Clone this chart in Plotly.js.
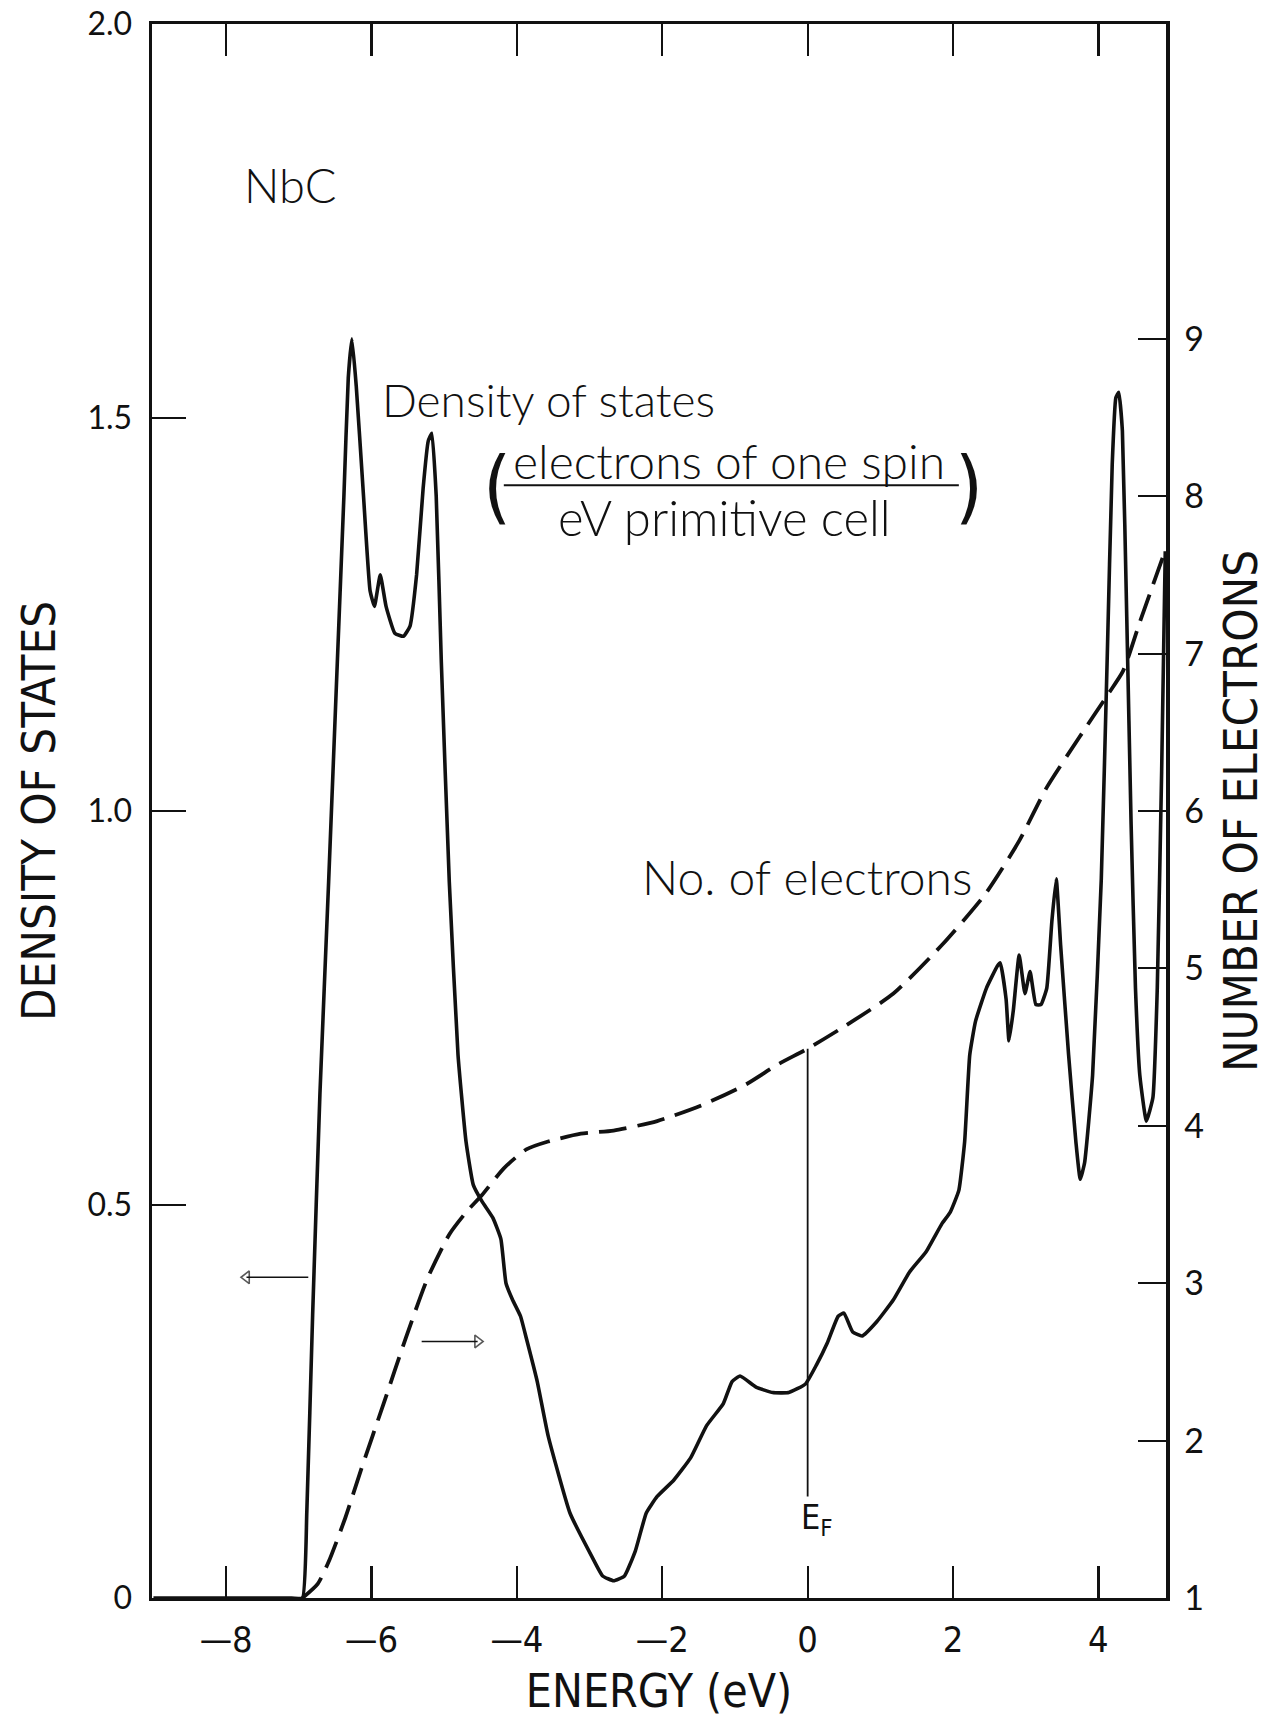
<!DOCTYPE html>
<html>
<head>
<meta charset="utf-8">
<script src="https://cdn.plot.ly/plotly-3.0.1.min.js"></script>
<style>html,body{margin:0;padding:0;background:#fff;}#chart{width:1284px;height:1718px;}</style>
</head>
<body>
<div id="chart"></div>
<script>
// Energy (eV) and density of states (electrons of one spin / eV primitive cell)
const dosEnergy = [-9.0,-7.1,-6.95,-6.89,-6.81,-6.71,-6.59,-6.47,-6.38,-6.32,-6.27,-6.21,-6.11,-6.02,-5.96,-5.88,-5.80,-5.68,-5.56,-5.47,-5.38,-5.29,-5.22,-5.17,-5.11,-5.04,-4.93,-4.81,-4.70,-4.60,-4.48,-4.33,-4.22,-4.15,-4.06,-3.95,-3.87,-3.72,-3.57,-3.27,-2.97,-2.82,-2.67,-2.52,-2.37,-2.22,-2.07,-1.84,-1.61,-1.39,-1.16,-1.04,-0.93,-0.71,-0.48,-0.26,-0.03,0.12,0.27,0.42,0.50,0.62,0.75,0.95,1.18,1.40,1.63,1.85,1.96,2.08,2.16,2.23,2.31,2.46,2.61,2.65,2.73,2.77,2.83,2.91,2.99,3.06,3.14,3.21,3.29,3.36,3.42,3.48,3.59,3.69,3.75,3.81,3.92,4.04,4.12,4.19,4.24,4.28,4.33,4.39,4.45,4.51,4.57,4.66,4.75,4.81,4.87,4.92];
const dosValues = [0,0,0,0.11,0.36,0.64,0.91,1.19,1.40,1.55,1.60,1.54,1.40,1.28,1.26,1.30,1.26,1.226,1.222,1.235,1.30,1.41,1.47,1.48,1.40,1.19,0.91,0.69,0.58,0.525,0.504,0.483,0.456,0.40,0.379,0.358,0.33,0.275,0.206,0.108,0.053,0.028,0.022,0.028,0.060,0.108,0.129,0.15,0.178,0.219,0.247,0.275,0.282,0.268,0.261,0.261,0.272,0.296,0.324,0.358,0.362,0.338,0.333,0.351,0.379,0.414,0.44,0.476,0.49,0.518,0.58,0.69,0.733,0.775,0.803,0.807,0.761,0.708,0.747,0.817,0.768,0.796,0.754,0.754,0.775,0.86,0.914,0.83,0.69,0.58,0.532,0.553,0.664,0.914,1.19,1.44,1.525,1.532,1.483,1.247,0.983,0.775,0.664,0.606,0.636,0.775,1.05,1.33];

// Number of electrons (right axis)
const nEnergy = [-6.95,-6.74,-6.59,-6.36,-6.14,-5.83,-5.53,-5.23,-4.93,-4.70,-4.48,-4.18,-3.87,-3.57,-3.12,-2.67,-2.07,-1.46,-0.86,-0.41,0,0.50,1.18,1.85,2.44,2.91,3.29,3.74,4.13,4.34,4.57,4.93];
const nElectrons = [1.0,1.09,1.23,1.51,1.82,2.24,2.65,3.03,3.31,3.45,3.56,3.73,3.85,3.90,3.95,3.97,4.03,4.13,4.26,4.39,4.49,4.63,4.84,5.15,5.47,5.81,6.15,6.47,6.74,6.89,7.20,7.67];

// Fermi level marker
const fermiEnergy = [0, 0];
const fermiElectrons = [1.645, 4.49];

// Axis-pointer arrows (tail, head)
const leftArrowX = [-6.87, -7.72];
const leftArrowY = [0.4075, 0.4075];
const rightArrowX = [-5.31, -4.54];
const rightArrowY = [0.326, 0.326];

// Tick labels
const xTickVals = [-8,-6,-4,-2,0,2,4];
const xTickText = ["\u20148","\u20146","\u20144","\u20142","0","2","4"];
const yTickVals = [0,0.5,1.0,1.5,2.0];
const yTickText = ["0","0.5","1.0","1.5","2.0"];
const y2TickVals = [1,2,3,4,5,6,7,8,9];
const y2TickText = ["1","2","3","4","5","6","7","8","9"];

const labelFont = "Lato, 'Open Sans', sans-serif";
const narrowFont = "'Liberation Sans Narrow', 'DejaVu Sans Condensed', sans-serif";

const traces = [
  {x: dosEnergy, y: dosValues, type: 'scatter', mode: 'lines', name: 'Density of states',
   line: {color: '#111', width: 3.6, shape: 'spline', smoothing: 0.4}, yaxis: 'y'},
  {x: nEnergy, y: nElectrons, type: 'scatter', mode: 'lines', name: 'No. of electrons',
   line: {color: '#111', width: 3.8, dash: '28px,11px', shape: 'spline', smoothing: 0.6}, yaxis: 'y2'},
  {x: fermiEnergy, y: fermiElectrons, type: 'scatter', mode: 'lines', name: 'E_F',
   line: {color: '#111', width: 1.8}, yaxis: 'y2'},
  {x: leftArrowX, y: leftArrowY, type: 'scatter', mode: 'lines+markers', yaxis: 'y',
   line: {color: '#111', width: 1.4},
   marker: {symbol: ['circle', 'triangle-left-open'], size: [0, 11], color: '#111', line: {color: '#111', width: 1.6}}},
  {x: rightArrowX, y: rightArrowY, type: 'scatter', mode: 'lines+markers', yaxis: 'y',
   line: {color: '#111', width: 1.4},
   marker: {symbol: ['circle', 'triangle-right-open'], size: [0, 11], color: '#111', line: {color: '#111', width: 1.6}}}
];

const layout = {
  width: 1284, height: 1718,
  margin: {l: 152, r: 118, t: 24, b: 120},
  paper_bgcolor: '#fff', plot_bgcolor: '#fff',
  showlegend: false,
  xaxis: {
    range: [-9.02, 4.93], tickvals: xTickVals, ticktext: xTickText,
    ticks: 'inside', ticklen: 32, tickwidth: 2.2, tickcolor: '#111',
    showline: true, linewidth: 3, linecolor: '#111', mirror: 'ticks',
    showgrid: false, zeroline: false,
    tickfont: {family: narrowFont, size: 36, color: '#111'},
    ticklabelstandoff: 8, ticklabeloverflow: 'allow',
    title: {text: 'ENERGY (eV)', font: {family: narrowFont, size: 46, color: '#111'}, standoff: 20}
  },
  yaxis: {
    range: [0, 2.0], tickvals: yTickVals, ticktext: yTickText,
    ticks: 'inside', ticklen: 34, tickwidth: 2, tickcolor: '#111',
    showline: true, linewidth: 3.5, linecolor: '#111', mirror: false,
    showgrid: false, zeroline: false,
    tickfont: {family: labelFont, size: 32, color: '#111'},
    ticklabelstandoff: 10, ticklabeloverflow: 'allow',
    title: {text: 'DENSITY OF STATES', font: {family: narrowFont, size: 47, color: '#111'}, standoff: 18}
  },
  yaxis2: {
    range: [1, 11], overlaying: 'y', side: 'right', tickvals: y2TickVals, ticktext: y2TickText,
    ticks: 'inside', ticklen: 28, tickwidth: 2, tickcolor: '#111',
    showline: true, linewidth: 3.5, linecolor: '#111',
    showgrid: false, zeroline: false,
    tickfont: {family: labelFont, size: 34, color: '#111'},
    ticklabelstandoff: 8, ticklabeloverflow: 'allow',
    title: {text: 'NUMBER OF ELECTRONS', font: {family: narrowFont, size: 47, color: '#111'}, standoff: 22}
  },
  shapes: [
    {type: 'line', xref: 'x', yref: 'y', x0: -4.18, x1: 2.08, y0: 1.414, y1: 1.414, line: {color: '#111', width: 2}}
  ],
  annotations: [
    {x: -7.78, y: 1.795, xref: 'x', yref: 'y', text: 'NbC', showarrow: false, xanchor: 'left', yanchor: 'middle',
     font: {family: labelFont, size: 47, weight: 300, color: '#111'}},
    {x: -5.88, y: 1.523, xref: 'x', yref: 'y', text: 'Density of states', showarrow: false, xanchor: 'left', yanchor: 'middle',
     font: {family: labelFont, size: 46, weight: 300, color: '#111'}},
    {x: -1.08, y: 1.446, xref: 'x', yref: 'y', text: 'electrons of one spin', showarrow: false, xanchor: 'center', yanchor: 'middle',
     font: {family: labelFont, size: 48, weight: 300, color: '#111'}},
    {x: -1.145, y: 1.374, xref: 'x', yref: 'y', text: 'eV primitive cell', showarrow: false, xanchor: 'center', yanchor: 'middle',
     font: {family: labelFont, size: 49, weight: 300, color: '#111'}},
    {x: -4.28, y: 1.412, xref: 'x', yref: 'y', text: '(', showarrow: false, xanchor: 'center', yanchor: 'middle',
     font: {family: narrowFont, size: 80, weight: 300, color: '#111'}},
    {x: 2.22, y: 1.412, xref: 'x', yref: 'y', text: ')', showarrow: false, xanchor: 'center', yanchor: 'middle',
     font: {family: narrowFont, size: 80, weight: 300, color: '#111'}},
    {x: -2.30, y: 0.917, xref: 'x', yref: 'y', text: 'No. of electrons', showarrow: false, xanchor: 'left', yanchor: 'middle',
     font: {family: labelFont, size: 48, weight: 300, color: '#111'}},
    {x: -0.12, y: 0.10, xref: 'x', yref: 'y', text: 'E<sub>F</sub>', showarrow: false, xanchor: 'left', yanchor: 'middle',
     font: {family: narrowFont, size: 34, color: '#111'}}
  ]
};

Plotly.newPlot('chart', traces, layout, {staticPlot: true, displayModeBar: false});
</script>
</body>
</html>
